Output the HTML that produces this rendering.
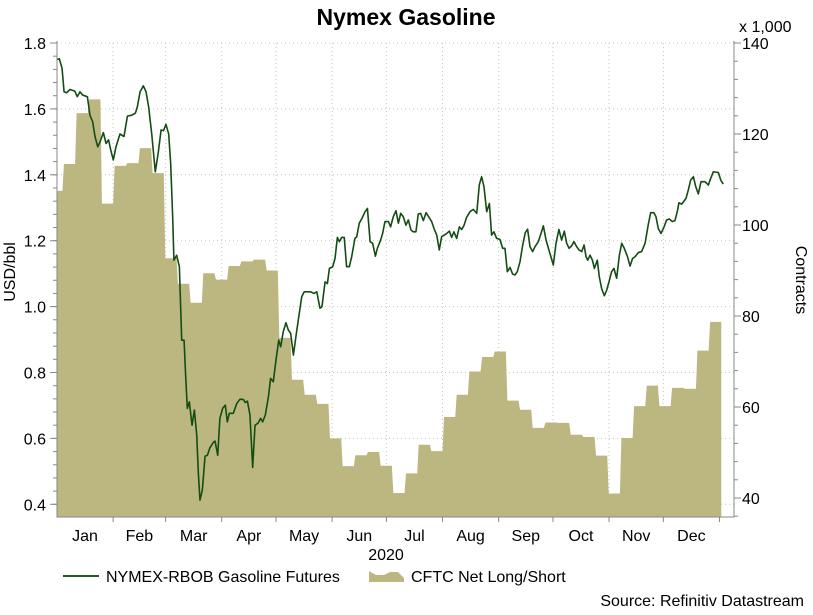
<!DOCTYPE html>
<html><head><meta charset="utf-8"><style>
body{margin:0;background:#fff;}
svg text{font-family:"Liberation Sans",Arial,sans-serif;fill:#000;}
</style></head><body>
<svg id="chart" width="813" height="610" viewBox="0 0 813 610" xmlns="http://www.w3.org/2000/svg">
<text x="406" y="25" font-size="23" font-weight="bold" text-anchor="middle">Nymex Gasoline</text>
<text x="739" y="32" font-size="16">x 1,000</text>
<text transform="translate(15,272) rotate(-90)" font-size="16" text-anchor="middle">USD/bbl</text>
<text transform="translate(796,280) rotate(90)" font-size="16" text-anchor="middle">Contracts</text>
<text x="386" y="560" font-size="16" text-anchor="middle">2020</text>
<g id="grid"></g><g id="area"></g><g id="line"></g><g id="axes"></g>
<g>
<line x1="63" y1="576" x2="99" y2="576" stroke="#1e5a1e" stroke-width="2"/>
<text x="106" y="582" font-size="16">NYMEX-RBOB Gasoline Futures</text>
<path d="M369,582 L369,571 L376,575 L384,575 L390,572 L398,572 L404,578 L404,582 Z" fill="#bcb781"/>
<text x="411" y="582" font-size="16">CFTC Net Long/Short</text>
</g>
<text x="804" y="606" font-size="16" text-anchor="end">Source: Refinitiv Datastream</text>
</svg>
<script>
const months=["Jan","Feb","Mar","Apr","May","Jun","Jul","Aug","Sep","Oct","Nov","Dec"];
const monthStartDays=[0,31,60,91,121,152,182,213,244,274,305,335,366];
const leftTicks=[0.4,0.6,0.8,1.0,1.2,1.4,1.6,1.8];
const rightTicks=[40,60,80,100,120,140];
const cftcWeekStart=-4;
const cftcValues=[107.5,113.4,124.6,127.6,104.7,113,113.6,116.9,111.4,92.7,87.1,82.9,89.4,88,91,92,92.4,90,75.2,66,62.7,60.7,53.1,47,49.4,50.1,47.1,41.1,45.4,51.7,50.3,57.8,62.7,67.8,71,72.2,61.4,59.4,55.4,56.6,56.5,53.9,53.4,49.3,41,53.2,60.2,64.7,60.2,64.2,64,72.4,78.7];
const priceDays=[0.2,1.3,2.8,3.9,5.3,7.2,9.8,11.2,12.7,14.2,16.8,18.2,19.7,21,22.5,23.8,25.6,27.1,28.5,29.7,31.1,32.6,34.8,37,38.9,41.3,43.3,44.4,45.9,47.7,49.2,50.6,52.3,54.3,56,57.5,58.8,60.2,61.7,62.8,63.9,64.6,66.1,67.6,68.9,70.2,71.1,72,73.1,74.6,75.9,77.2,78.1,79,80.3,81.8,83.1,84.5,86.4,87.3,88.8,90,91.5,93,94.1,95.2,97.4,99.3,101.1,103,104,105.2,106.6,108.1,109.4,111.2,112.5,113.6,115.1,116.8,118,119.5,121,122.5,123.6,125,126.5,127.8,129.1,130.6,132,133.3,135.2,136.6,138,140.1,142,143.5,145.3,146.4,148.1,149.4,150.5,152.3,153.6,154.9,156,157.3,158.7,160,161.5,162.8,164.6,165.6,167,168.5,170.2,171.5,173,174.4,175.9,177,178.8,179.9,181.2,183.1,184.3,185.8,187.3,188.6,189.9,191.3,192.8,194.1,195.6,196.9,198.3,199.6,200.9,202.4,203.9,205.3,207,208.3,209.8,211.2,212.5,214,215.3,216.8,218,219.3,220.8,222.3,223.6,224.9,226.3,228.2,230,231.9,233.3,234.6,235.9,237.4,238.9,240.1,241.4,242.9,244.7,246.2,247.5,248.8,250.3,251.7,253,254.3,255.8,257.3,258.7,260,261.3,262.8,264.1,265.9,267.4,268.7,270.2,271.5,272.9,274.2,275.7,277.3,278.8,280.3,281.6,282.9,284.3,285.6,287.1,288.4,289.9,291.2,292.3,293.2,294.5,295.8,296.9,298.5,299.6,300.9,302.4,303.7,305.1,306.4,307.7,309.2,310.7,312,313.4,315.1,316.6,318,319.3,321.2,323,324.9,326.7,328,329.8,330.9,332.2,333.7,335.4,336.8,338.3,339.9,341.4,342.7,343.6,345.1,347.5,348.8,350.1,351.6,352.9,354.3,355.8,358,359.9,360.8,362.6,365.4,366.7,368.1];
const priceValues=[1.750,1.752,1.723,1.652,1.649,1.659,1.654,1.637,1.652,1.642,1.637,1.581,1.561,1.516,1.485,1.500,1.528,1.495,1.506,1.475,1.445,1.485,1.524,1.516,1.578,1.581,1.587,1.607,1.652,1.670,1.652,1.607,1.526,1.409,1.470,1.536,1.534,1.553,1.524,1.435,1.273,1.141,1.156,1.121,0.898,0.898,0.787,0.691,0.711,0.640,0.686,0.610,0.494,0.413,0.443,0.546,0.549,0.572,0.588,0.592,0.549,0.661,0.691,0.701,0.650,0.676,0.676,0.706,0.719,0.718,0.709,0.713,0.671,0.512,0.640,0.647,0.661,0.650,0.671,0.726,0.782,0.772,0.838,0.898,0.878,0.924,0.951,0.929,0.919,0.853,0.909,0.959,1.030,1.045,1.045,1.045,1.040,1.045,0.995,1.000,1.075,1.070,1.116,1.121,1.146,1.210,1.197,1.210,1.210,1.121,1.121,1.151,1.207,1.212,1.253,1.268,1.288,1.298,1.197,1.192,1.153,1.177,1.202,1.222,1.258,1.258,1.242,1.273,1.291,1.253,1.283,1.273,1.247,1.263,1.232,1.227,1.227,1.281,1.283,1.261,1.285,1.273,1.258,1.237,1.217,1.172,1.212,1.217,1.222,1.229,1.210,1.227,1.207,1.242,1.234,1.247,1.271,1.288,1.295,1.283,1.369,1.394,1.364,1.288,1.313,1.217,1.227,1.207,1.204,1.177,1.177,1.106,1.119,1.099,1.096,1.106,1.136,1.187,1.224,1.235,1.182,1.167,1.182,1.197,1.222,1.245,1.202,1.177,1.151,1.126,1.192,1.234,1.202,1.229,1.192,1.177,1.184,1.197,1.182,1.172,1.167,1.187,1.151,1.141,1.156,1.141,1.116,1.141,1.091,1.055,1.033,1.050,1.078,1.106,1.116,1.086,1.156,1.192,1.177,1.153,1.123,1.146,1.151,1.164,1.167,1.192,1.250,1.285,1.285,1.273,1.237,1.222,1.242,1.263,1.266,1.258,1.261,1.288,1.315,1.311,1.328,1.354,1.384,1.394,1.364,1.342,1.379,1.379,1.369,1.384,1.409,1.407,1.384,1.372];

const L=57,R=734,T=43,B=517;
const xS=d=>L+d*1.81;
const yL=v=>43+(1.8-v)*329.5;
const yR=v=>43+(140-v)*4.55;
const NS="http://www.w3.org/2000/svg";
function mk(parent,tag,attrs){const e=document.createElementNS(NS,tag);for(const k in attrs)e.setAttribute(k,attrs[k]);document.getElementById(parent).appendChild(e);return e;}

leftTicks.forEach(v=>{const g=mk('grid','line',{x1:L,x2:R,y1:yL(v),y2:yL(v),stroke:'#bfc9b0','stroke-dasharray':'1,3'});

});
monthStartDays.slice(1,12).forEach(d=>{const g=mk('grid','line',{x1:xS(d),x2:xS(d),y1:T,y2:B,stroke:'#bfc9b0','stroke-dasharray':'1,3'});

});

let pts=[[xS(0),B]];
cftcValues.forEach((v,i)=>{const d0=Math.max(0,cftcWeekStart+7*i),d1=cftcWeekStart+7*(i+1);
pts.push([xS(d0)+(i?1.5:0),yR(v)]);pts.push([xS(d1),yR(v)]);});
pts.push([pts[pts.length-1][0],B]);
const area=mk('area','polygon',{points:pts.map(p=>p.join(',')).join(' '),fill:'#bcb781'});



const ln=mk('line','polyline',{points:priceDays.map((d,i)=>xS(d)+','+yL(priceValues[i])).join(' '),fill:'none',stroke:'#134d13','stroke-width':1.6,'stroke-linejoin':'round'});



const ax=mk('axes','path',{d:`M${L},${T-2}V${B}H${R}V${T-2}`,stroke:'#888',fill:'none'});


for(let v=0.4;v<=1.801;v+=0.04){const y=yL(v);mk('axes','line',{x1:L-4,x2:L,y1:y,y2:y,stroke:'#888'});}
leftTicks.forEach(v=>{mk('axes','line',{x1:L-7,x2:L,y1:yL(v),y2:yL(v),stroke:'#888'});
const t=mk('axes','text',{x:L-11,y:yL(v)+6,'font-size':16,'text-anchor':'end'});t.textContent=v.toFixed(1);

});
for(let v=36;v<=140;v+=4){const y=yR(v);mk('axes','line',{x1:R,x2:R+4,y1:y,y2:y,stroke:'#888'});}
rightTicks.forEach(v=>{mk('axes','line',{x1:R,x2:R+7,y1:yR(v),y2:yR(v),stroke:'#888'});
const t=mk('axes','text',{x:R+8,y:yR(v)+6,'font-size':16});t.textContent=v;

});
months.forEach((m,i)=>{const d=monthStartDays[i+1];mk('axes','line',{x1:xS(d),x2:xS(d),y1:B,y2:B+5,stroke:'#888'});
const t=mk('axes','text',{x:(xS(monthStartDays[i])+xS(d))/2,y:541,'font-size':16,'text-anchor':'middle'});t.textContent=m;

});
</script>
</body></html>
